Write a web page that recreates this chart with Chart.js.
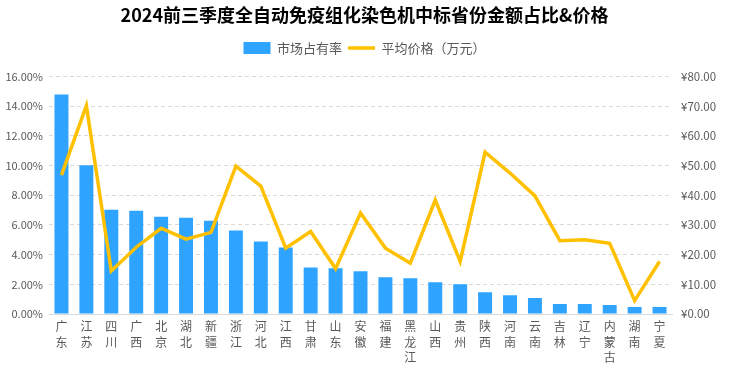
<!DOCTYPE html>
<html>
<head>
<meta charset="utf-8">
<script src="https://cdn.jsdelivr.net/npm/chart.js@4/dist/chart.umd.min.js"></script>
<style>
  html, body { margin: 0; padding: 0; background: #fff; }
  #wrap { width: 729px; height: 369px; }
</style>
</head>
<body>
<div id="wrap"><canvas id="chart"></canvas></div>
<script>
// provinces (each label stacked one character per line)
const provinces = ['广东', '江苏', '四川', '广西', '北京', '湖北', '新疆', '浙江', '河北', '江西', '甘肃', '山东', '安徽',
	'福建', '黑龙江', '山西', '贵州', '陕西', '河南', '云南', '吉林', '辽宁', '内蒙古', '湖南', '宁夏'];
// market share, %
const share = [14.8, 10.03, 7.02, 6.96, 6.56, 6.49, 6.29, 5.62, 4.88, 4.48, 3.14, 3.08, 2.88,
	2.47, 2.41, 2.14, 2.0, 1.47, 1.27, 1.07, 0.67, 0.67, 0.6, 0.47, 0.47];
// average price, 万元
const price = [46.8, 70.2, 14.5, 22.5, 28.9, 25.2, 27.5, 49.8, 43.1, 22.2, 27.8, 15.3, 34.0,
	22.2, 17.1, 38.4, 17.7, 54.5, 47.5, 39.8, 24.7, 25.0, 23.8, 4.5, 17.7];

const fontFamily = '"Noto Sans CJK SC", "Noto Sans", sans-serif';
const textColor = '#595959';

// leave some room under the legend
const legendGap = {
	id: 'legendGap',
	beforeInit(chart) {
		const fit = chart.legend.fit;
		chart.legend.fit = function () {
			fit.bind(chart.legend)();
			this.height += 12;
		};
	},
};

const ctx = document.getElementById('chart');
new Chart(ctx, {
	plugins: [legendGap],
	data: {
		labels: provinces.map((p) => p.split('')),
		datasets: [
			{
				type: 'line',
				label: '平均价格（万元）',
				data: price,
				yAxisID: 'y1',
				borderColor: '#FFC000',
				backgroundColor: '#FFC000',
				borderWidth: 3.5,
				pointRadius: 0,
				pointStyle: 'line',
				tension: 0,
				order: 0,
			},
			{
				type: 'bar',
				label: '市场占有率',
				data: share,
				yAxisID: 'y',
				backgroundColor: '#2EA3FF',
				pointStyle: 'rect',
				categoryPercentage: 1,
				barPercentage: 0.56,
				order: 1,
			},
		],
	},
	options: {
		responsive: true,
		maintainAspectRatio: false,
		animation: false,
		layout: { padding: { top: 4, left: 0, right: 0, bottom: 0 } },
		plugins: {
			title: {
				display: true,
				text: '2024前三季度全自动免疫组化染色机中标省份金额占比&价格',
				color: '#000',
				font: { family: fontFamily, size: 18, weight: 'bold' },
				padding: { top: 0, bottom: 10 },
			},
			legend: {
				display: true,
				reverse: true,
				labels: {
					usePointStyle: true,
					pointStyleWidth: 27,
					boxHeight: 12,
					padding: 6,
					color: textColor,
					font: { family: fontFamily, size: 13 },
				},
			},
			tooltip: { enabled: false },
		},
		scales: {
			x: {
				grid: { display: false, drawTicks: false },
				border: { display: true, color: '#D9D9D9' },
				ticks: {
					autoSkip: false,
					maxRotation: 0,
					padding: 4,
					color: textColor,
					font: { family: fontFamily, size: 12, lineHeight: 1.33 },
				},
				afterFit: (s) => { s.height = 55; },
			},
			y: {
				position: 'left',
				min: 0,
				max: 16,
				ticks: {
					stepSize: 2,
					color: textColor,
					font: { family: fontFamily, size: 11 },
					padding: 6,
					callback: (v) => v.toFixed(2) + '%',
				},
				grid: { color: '#D9D9D9', drawTicks: false },
				border: { display: false, dash: [4, 3] },
				afterFit: (s) => { s.width = 49; },
			},
			y1: {
				position: 'right',
				min: 0,
				max: 80,
				ticks: {
					stepSize: 10,
					color: textColor,
					font: { family: fontFamily, size: 11.5 },
					padding: 9,
					callback: (v) => '¥' + v.toFixed(2),
				},
				grid: { display: false, drawTicks: false },
				border: { display: false },
				afterFit: (s) => { s.width = 57; },
			},
		},
	},
});
</script>
</body>
</html>
